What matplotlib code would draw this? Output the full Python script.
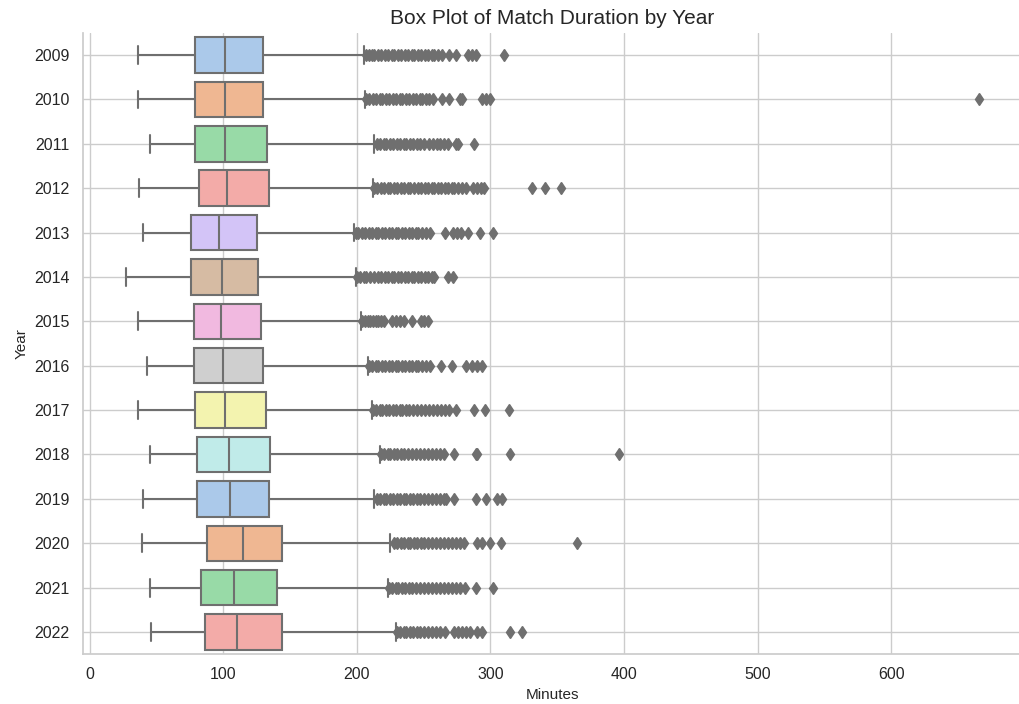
import colorsys

import matplotlib
matplotlib.use("Agg")
import matplotlib.pyplot as plt
import seaborn as sns

years = ["2009", "2010", "2011", "2012", "2013", "2014", "2015",
         "2016", "2017", "2018", "2019", "2020", "2021", "2022"]

# Five-number summaries (minutes) per season
whisker_low = [36, 36, 45, 37, 40, 27, 36, 43, 36, 45, 40, 39, 45, 46]
q1 = [79, 79, 79, 82, 76, 76, 78, 78, 79, 80, 80, 88, 83, 86]
median = [101, 101, 101, 103, 97, 99, 98, 100, 101, 104, 105, 115, 108, 110]
q3 = [130, 130, 133, 134, 125, 126, 128, 130, 132, 135, 134, 144, 140, 144]
whisker_high = [205, 206, 213, 212, 198, 199, 203, 208, 211, 217, 213, 225, 223, 229]

# Outlying match durations (minutes) per season
fliers = [
    [207, 209, 211, 213, 216, 218, 221, 223, 226, 228, 231, 233, 236, 238, 241,
     243, 246, 248, 251, 253, 256, 258, 261, 264, 269, 274, 283, 286, 289, 310],
    [207, 209, 212, 214, 217, 219, 222, 224, 227, 229, 232, 234, 237, 239, 242,
     244, 247, 249, 252, 254, 257, 264, 269, 277, 279, 294, 297, 300, 666],
    [215, 217, 220, 222, 225, 227, 230, 232, 235, 237, 240, 242, 245, 247, 250,
     254, 257, 260, 262, 265, 268, 274, 276, 288],
    [213, 215, 218, 220, 223, 225, 228, 230, 233, 235, 238, 240, 243, 246, 248,
     251, 253, 256, 258, 261, 263, 266, 268, 271, 273, 276, 279, 282, 287, 290,
     293, 295, 331, 341, 353],
    [199, 201, 204, 206, 209, 211, 214, 216, 219, 221, 224, 226, 229, 231, 234,
     236, 239, 241, 244, 246, 249, 252, 255, 266, 272, 275, 278, 283, 292, 302],
    [200, 202, 205, 207, 210, 213, 216, 218, 221, 223, 226, 228, 231, 233, 236,
     238, 241, 243, 246, 248, 251, 253, 256, 258, 268, 272],
    [204, 206, 208, 210, 212, 214, 216, 218, 220, 226, 229, 232, 235, 241, 248,
     250, 253],
    [209, 211, 214, 216, 219, 221, 224, 226, 229, 231, 234, 236, 239, 241, 244,
     246, 249, 252, 255, 263, 271, 282, 286, 290, 294],
    [212, 214, 217, 219, 222, 224, 227, 229, 232, 234, 237, 239, 242, 245, 248,
     251, 254, 257, 260, 263, 266, 269, 274, 288, 296, 314],
    [218, 220, 223, 225, 228, 230, 233, 235, 238, 241, 244, 247, 250, 253, 256,
     259, 262, 265, 273, 289, 290, 315, 396],
    [215, 217, 220, 222, 225, 227, 230, 232, 235, 237, 240, 242, 245, 247, 250,
     253, 256, 259, 262, 265, 267, 273, 289, 297, 305, 309],
    [228, 230, 233, 235, 238, 240, 243, 245, 248, 250, 253, 256, 259, 262, 265,
     268, 271, 274, 277, 280, 290, 294, 300, 308, 365],
    [224, 226, 229, 231, 234, 236, 239, 241, 244, 247, 250, 253, 256, 259, 262,
     265, 268, 271, 274, 277, 281, 289, 302],
    [230, 232, 235, 237, 240, 242, 245, 247, 250, 253, 256, 259, 262, 266, 273,
     276, 279, 282, 285, 290, 294, 315, 324],
]

sns.set_theme(style="whitegrid")
plt.rcParams["font.family"] = ["Liberation Sans", "DejaVu Sans"]

pastel = sns.color_palette("pastel", 10)
box_colors = [sns.desaturate(pastel[i % 10], 0.75) for i in range(len(years))]

# Line gray derived from the darkest box colour
lum = min(colorsys.rgb_to_hls(*c)[1] for c in box_colors) * 0.6
gray = (lum, lum, lum)

stats = []
for i, yr in enumerate(years):
    stats.append({
        "label": yr,
        "whislo": whisker_low[i],
        "q1": q1[i],
        "med": median[i],
        "q3": q3[i],
        "whishi": whisker_high[i],
        "fliers": fliers[i],
    })

fig = plt.figure(figsize=(10.19, 7.04), dpi=100)
ax = fig.add_axes([0.0815, 0.0707, 0.9215, 0.8827])

lw = 1.5
bp = ax.bxp(
    stats,
    positions=list(range(len(years))),
    widths=0.8,
    vert=False,
    patch_artist=True,
    showfliers=True,
    boxprops=dict(edgecolor=gray, linewidth=lw),
    medianprops=dict(color=gray, linewidth=lw),
    whiskerprops=dict(color=gray, linewidth=lw),
    capprops=dict(color=gray, linewidth=lw),
    flierprops=dict(marker="d", markerfacecolor=gray, markeredgecolor=gray,
                    markersize=6, linestyle="none"),
)
for patch, c in zip(bp["boxes"], box_colors):
    patch.set_facecolor(c)

ax.set_ylim(len(years) - 0.5, -0.5)
ax.set_yticks(range(len(years)))
ax.set_yticklabels(years)
ax.set_xticks([0, 100, 200, 300, 400, 500, 600])
ax.tick_params(axis="both", labelsize=11.5, colors="#262626")
ax.grid(True, axis="both", color="#cccccc", linewidth=1)
ax.set_axisbelow(True)
for s in ["top", "right"]:
    ax.spines[s].set_visible(False)
for s in ["left", "bottom"]:
    ax.spines[s].set_color("#cccccc")
    ax.spines[s].set_linewidth(1.25)

ax.set_xlabel("Minutes", fontsize=11, color="#262626")
ax.set_ylabel("Year", fontsize=11, color="#262626")
ax.set_title("Box Plot of Match Duration by Year", fontsize=15, color="#262626")

fig.savefig("out.png", dpi=100)
